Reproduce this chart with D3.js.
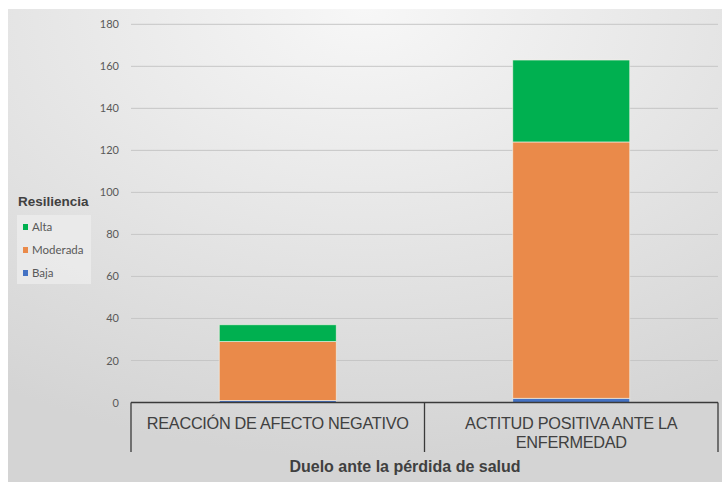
<!DOCTYPE html>
<html><head><meta charset="utf-8">
<script src="https://cdn.jsdelivr.net/npm/d3@7"></script>
<style>body{margin:0;background:#fff}svg{display:block}</style>
</head><body>
<script>
const categories = [["REACCIÓN DE AFECTO NEGATIVO"], ["ACTITUD POSITIVA ANTE LA", "ENFERMEDAD"]];
const seriesNames = ["Baja", "Moderada", "Alta"];
const baja = [1, 2];
const moderada = [28, 122];
const alta = [8, 39];
const yTicks = [0, 20, 40, 60, 80, 100, 120, 140, 160, 180];
const colors = {Baja: "#4472C4", Moderada: "#EA8A4A", Alta: "#00B050"};
const legendOrder = ["Alta", "Moderada", "Baja"];
const legendTitle = "Resiliencia";
const xTitle = "Duelo ante la pérdida de salud";

(function () {
const W = 722, H = 482;
const svg = d3.select("body").append("svg").attr("width", W).attr("height", H);
const defs = svg.append("defs");
const grad = defs.append("radialGradient").attr("id", "bg")
  .attr("cx", "50%").attr("cy", "0%").attr("r", "95%").attr("fx", "50%").attr("fy", "0%");
grad.append("stop").attr("offset", "0%").attr("stop-color", "#f7f7f7");
grad.append("stop").attr("offset", "100%").attr("stop-color", "#d4d4d4");
svg.append("rect").attr("x", 8).attr("y", 9).attr("width", W - 8).attr("height", H - 9).attr("fill", "url(#bg)");

const pL = 131, pR = 718, pT = 24.3, pB = 402.5;
const y = d3.scaleLinear().domain([0, 180]).range([pB, pT]);
const keys = categories.map((c, i) => i);
const x = d3.scaleBand().domain(keys).range([pL, pR]).paddingInner(0).paddingOuter(0);

svg.append("g").selectAll("line").data(yTicks.filter(t => t > 0)).join("line")
  .attr("x1", pL).attr("x2", pR).attr("y1", d => y(d)).attr("y2", d => y(d))
  .attr("stroke", "#c6c6c6").attr("stroke-width", 1);

const yAxis = d3.axisLeft(y).tickValues(yTicks).tickSize(0).tickPadding(12);
const gy = svg.append("g").attr("transform", `translate(${pL},0)`).call(yAxis);
gy.select(".domain").remove();
gy.selectAll("text").attr("font-family", "Lato, 'Liberation Sans Narrow', sans-serif").attr("font-size", 11).attr("fill", "#595959");

const rows = keys.map(i => ({key: i, Baja: baja[i], Moderada: moderada[i], Alta: alta[i]}));
const stack = d3.stack().keys(seriesNames)(rows);
const bw = 117;
svg.append("g").selectAll("g").data(stack).join("g").attr("fill", d => colors[d.key])
  .selectAll("rect").data(d => d).join("rect")
  .attr("x", d => x(d.data.key) + x.bandwidth() / 2 - bw / 2)
  .attr("width", bw)
  .attr("y", d => y(d[1]))
  .attr("height", d => y(d[0]) - y(d[1]))
  .attr("stroke", "#f3f0e6").attr("stroke-width", 0.8).attr("stroke-opacity", 0.8);

const ax = svg.append("g").attr("stroke", "#3a3a3a").attr("stroke-width", 1.3);
ax.append("line").attr("x1", pL).attr("x2", pR).attr("y1", pB).attr("y2", pB);
const edges = [pL].concat(keys.map(k => x(k) + x.bandwidth()));
ax.selectAll("line.v").data(edges).join("line").attr("class", "v")
  .attr("x1", d => d).attr("x2", d => d).attr("y1", pB).attr("y2", 452);

const cat = svg.append("g");
categories.forEach((lines, i) => {
  lines.forEach((t, j) => {
    cat.append("text").attr("x", x(i) + x.bandwidth() / 2).attr("y", 429 + j * 19)
      .attr("text-anchor", "middle").attr("font-family", "'Liberation Sans', Arial, sans-serif")
      .attr("font-size", 16.3).attr("fill", "#404040").attr("letter-spacing", -0.3).text(t);
  });
});
svg.append("text").attr("x", 405).attr("y", 472).attr("text-anchor", "middle")
  .attr("font-family", "'Liberation Sans', Arial, sans-serif").attr("font-weight", "bold")
  .attr("font-size", 16).attr("fill", "#404040").text(xTitle);

svg.append("text").attr("x", 18).attr("y", 206).attr("font-family", "'Liberation Sans', Arial, sans-serif")
  .attr("font-weight", "bold").attr("font-size", 13.5).attr("fill", "#404040").text(legendTitle);
svg.append("rect").attr("x", 17).attr("y", 215).attr("width", 74).attr("height", 69).attr("fill", "#ececec").attr("opacity", 0.8);
const lg = svg.append("g").selectAll("g").data(legendOrder).join("g")
  .attr("transform", (d, i) => `translate(23,${227 + i * 23})`);
lg.append("rect").attr("x", 0).attr("y", -3).attr("width", 5).attr("height", 6).attr("fill", d => colors[d]);
lg.append("text").attr("x", 9).attr("y", 4).attr("font-family", "Lato, sans-serif").attr("font-size", 11.5)
  .attr("fill", "#595959").text(d => d);
})();
</script>
</body></html>
